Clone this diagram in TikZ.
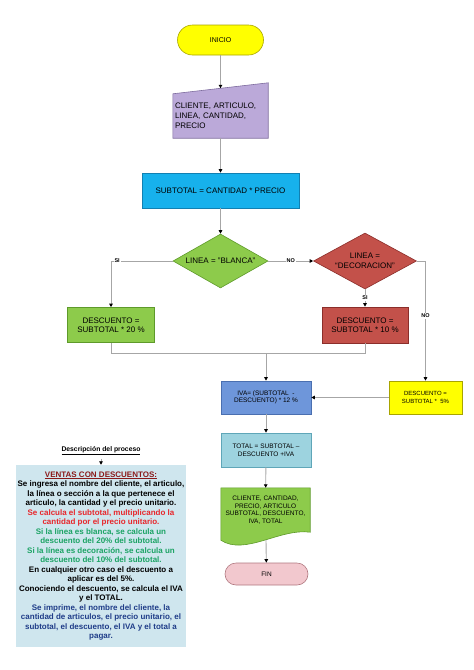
\documentclass[tikz,border=0pt]{standalone}
\usepackage{fontspec}
\setmainfont{Liberation Sans}
\usetikzlibrary{arrows.meta,positioning,shapes.geometric,calc,backgrounds}
\definecolor{amarillo}{HTML}{FFFF00}
\definecolor{amarilloborde}{HTML}{A8A400}
\definecolor{lila}{HTML}{BBA9D9}
\definecolor{lilaborde}{HTML}{7E6C9E}
\definecolor{cielo}{HTML}{17B1EC}
\definecolor{cieloborde}{HTML}{1180B2}
\definecolor{verdecaja}{HTML}{8DCB4B}
\definecolor{verdeborde}{HTML}{5E9A2A}
\definecolor{rojocaja}{HTML}{C3514A}
\definecolor{rojoborde}{HTML}{8B2E2A}
\definecolor{azulcaja}{HTML}{6E96DA}
\definecolor{azulborde}{HTML}{4A6FB0}
\definecolor{turquesa}{HTML}{9DD3DF}
\definecolor{turquesaborde}{HTML}{5FA6B8}
\definecolor{rosa}{HTML}{F2C8CE}
\definecolor{rosaborde}{HTML}{B07880}
\definecolor{celeste}{HTML}{CFE6EE}
\definecolor{linea}{HTML}{A6A6A6}
\definecolor{titulorojo}{HTML}{8B1A1A}
\definecolor{textorojo}{HTML}{E8262B}
\definecolor{textoverde}{HTML}{1BA364}
\definecolor{textoazul}{HTML}{1F3C88}

\begin{document}
\begin{tikzpicture}[
    x=1pt, y=-1pt,
    every node/.style={font=\fontsize{8}{9.5}\selectfont, text=black},
    caja/.style={draw, align=center, inner sep=1pt, line width=0.6pt},
    extremo/.style={caja, rounded corners=#1},
    decision/.style={diamond, draw, align=center, aspect=1.8, inner sep=0pt, line width=0.6pt},
    flecha/.style={-{Triangle[length=3.5pt,width=3.5pt,color=black]}, draw=linea, line width=0.9pt},
    enlace/.style={draw=linea, line width=0.9pt},
    etiq/.style={fill=white, inner sep=0.8pt, font=\bfseries\fontsize{5.5}{6}\selectfont},
    pequeno/.style={font=\fontsize{6.5}{7.6}\selectfont}
]
\useasboundingbox (0,0) rectangle (474,670);

\node[extremo=15pt, fill=amarillo, draw=amarilloborde, minimum width=86pt, minimum height=30pt, font=\fontsize{7}{8}\selectfont] (inicio) at (220.5,40) {INICIO};
\node[align=left, minimum width=95pt, minimum height=44pt, text width=91pt, inner sep=2pt, font=\fontsize{8}{10}\selectfont] (datos) at (220.5,116) {CLIENTE, ARTICULO,\\LINEA, CANTIDAD,\\PRECIO};
\node[caja, fill=cielo, draw=cieloborde, minimum width=157pt, minimum height=35pt] (subtotal) at (220.5,190.5) {SUBTOTAL = CANTIDAD * PRECIO};
\node[decision, fill=verdecaja, draw=verdeborde, minimum width=95pt, minimum height=54pt] (blanca) at (220.5,261) {LINEA = "BLANCA"};
\node[decision, fill=rojocaja, draw=rojoborde, minimum width=103pt, minimum height=56pt] (deco) at (365,261) {LINEA =\\“DECORACION”};
\node[caja, fill=verdecaja, draw=verdeborde, minimum width=87pt, minimum height=35pt] (d20) at (111,325) {DESCUENTO =\\SUBTOTAL * 20 \%};
\node[caja, fill=rojocaja, draw=rojoborde, minimum width=86pt, minimum height=36pt] (d10) at (365,325) {DESCUENTO =\\SUBTOTAL * 10 \%};
\node[caja, pequeno, fill=azulcaja, draw=azulborde, minimum width=90pt, minimum height=33pt] (iva) at (266,397.5) {IVA= (SUBTOTAL \ -\\DESCUENTO) * 12 \%};
\node[caja, fill=amarillo, draw=amarilloborde, minimum width=73pt, minimum height=33pt, font=\fontsize{6}{7.2}\selectfont] (d5) at (425.5,397.5) {DESCUENTO =\\SUBTOTAL * \ 5\%};
\node[caja, pequeno, fill=turquesa, draw=turquesaborde, minimum width=90pt, minimum height=34pt] (total) at (266,450) {TOTAL = SUBTOTAL –\\DESCUENTO +IVA};
\node[pequeno, align=center, minimum width=89pt, minimum height=44pt, inner sep=0pt] (salida) at (265.5,510) {CLIENTE, CANTIDAD,\\PRECIO, ARTICULO\\SUBTOTAL, DESCUENTO,\\IVA, TOTAL};
\node[extremo=11pt, pequeno, fill=rosa, draw=rosaborde, minimum width=83pt, minimum height=22pt] (fin) at (266.5,574) {FIN};

\begin{pgfonlayer}{background}
\filldraw[fill=lila, draw=lilaborde, line width=0.6pt] (datos.south west) -- (datos.south east) -- ($(datos.north east)+(0,-11)$) -- (datos.north west) -- cycle;
\filldraw[fill=verdecaja, draw=verdeborde, line width=0.6pt] (salida.south west) -- (salida.north west) -- (salida.north east) -- (salida.south east) .. controls (280,528) and (245,556) .. ($(salida.south west)+(0,8)$) -- cycle;
\end{pgfonlayer}
\coordinate (datostope) at ($(datos.north)+(0,-5.5)$);
\coordinate (salidabase) at ($(salida.south)+(0.5,8)$);
\coordinate (junta) at (266,353);

\draw[flecha] (inicio) -- (datostope);
\draw[flecha] (datos) -- (subtotal);
\draw[flecha] (subtotal) -- (blanca);
\draw[flecha] (blanca.west) -| node[etiq, pos=0.45] {SI} (d20.north);
\draw[flecha] (blanca) -- node[etiq] {NO} (deco);
\draw[flecha] (deco) -- node[etiq] {SI} (d10);
\draw[flecha] (deco.east) -| node[etiq, pos=0.73] {NO} (d5.north);
\draw[enlace] (d20.south) |- (junta);
\draw[enlace] (d10.south) |- (junta);
\draw[flecha] (junta) -- (iva);
\draw[flecha] (d5) -- (iva);
\draw[flecha] (iva) -- (total);
\draw[flecha] (total) -- (salida);
\draw[flecha] (salidabase) -- (fin);

\node[font=\bfseries\fontsize{6.8}{7.5}\selectfont] (titulo) at (101,451) {\underline{Descripción del proceso}};
\node[fill=celeste, align=center, minimum width=170pt, minimum height=182pt, inner sep=0pt, font=\bfseries\fontsize{8}{9.5}\selectfont] (proceso) at (101,556) {%
\textcolor{titulorojo}{\underline{VENTAS CON DESCUENTOS:}}\\
Se ingresa el nombre del cliente, el articulo,\\
la línea o sección a la que pertenece el\\
articulo, la cantidad y el precio unitario.\\
\textcolor{textorojo}{Se calcula el subtotal, multiplicando la}\\
\textcolor{textorojo}{cantidad por el precio unitario.}\\
\textcolor{textoverde}{Si la línea es blanca, se calcula un}\\
\textcolor{textoverde}{descuento del 20\% del subtotal.}\\
\textcolor{textoverde}{Si la línea es decoración, se calcula un}\\
\textcolor{textoverde}{descuento del 10\% del subtotal.}\\
En cualquier otro caso el descuento a\\
aplicar es del 5\%.\\
Conociendo el descuento, se calcula el IVA\\
y el TOTAL.\\
\textcolor{textoazul}{Se imprime, el nombre del cliente, la}\\
\textcolor{textoazul}{cantidad de articulos, el precio unitario, el}\\
\textcolor{textoazul}{subtotal, el descuento, el IVA y el total a}\\
\textcolor{textoazul}{pagar.}};
\draw[flecha] (titulo) -- (proceso);
\end{tikzpicture}
\end{document}
